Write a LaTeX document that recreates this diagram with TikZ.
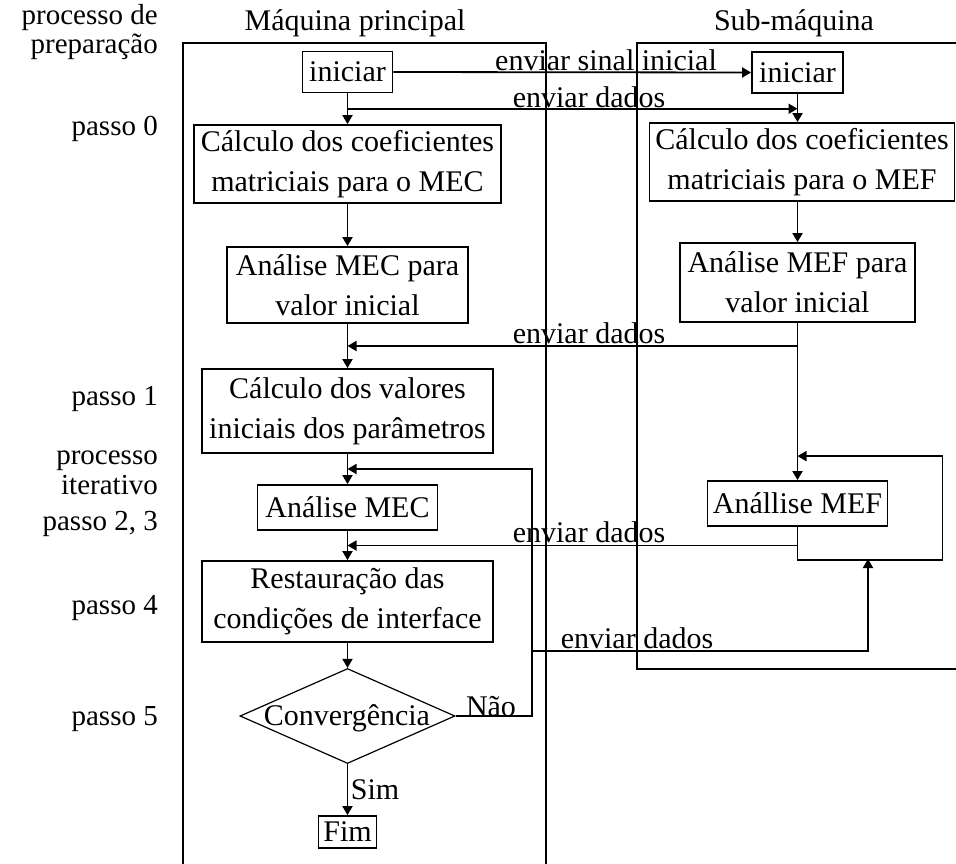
\documentclass[tikz,border=0pt]{standalone}
\usepackage{fontspec}
\setmainfont{Liberation Serif}
\usetikzlibrary{shapes.geometric,arrows.meta,calc}
\begin{document}
\begin{tikzpicture}[x=1pt,y=-1pt,
  every node/.style={font=\fontsize{30}{40}\selectfont},
  box/.style={draw, line width=1.8pt, inner sep=0pt, align=center},
  arr/.style={line width=1.8pt, -{Triangle[length=9pt,width=10pt]}},
  ln/.style={line width=1.8pt},
  lab/.style={inner sep=0pt},
  side/.style={anchor=base east, inner sep=0pt, font=\fontsize{29}{36}\selectfont},
  ttl/.style={anchor=base, inner sep=0pt}]
\useasboundingbox (0,0) rectangle (956,863);

% frames
\draw[ln] (183,880) -- (183,43) -- (546,43) -- (546,880);
\draw[ln] (970,43) -- (637,43) -- (637,669) -- (970,669);

% titles
\node[ttl] (tm) at (355,30) {Máquina principal};
\node[ttl] (ts) at (794,30) {Sub-máquina};

% side labels
\node[side] (s1) at (158,24) {processo de};
\node[side] (s2) at (158,53) {preparação};
\node[side] (s3) at (158,135) {passo 0};
\node[side] (s4) at (158,405) {passo 1};
\node[side] (s5) at (158,464) {processo};
\node[side] (s6) at (158,494) {iterativo};
\node[side] (s7) at (158,530) {passo 2, 3};
\node[side] (s8) at (158,614) {passo 4};
\node[side] (s9) at (158,725) {passo 5};

% main machine
\node[box, minimum width=307pt, minimum height=78pt] (mC) at (347.5,164) {Cálculo dos coeficientes\\matriciais para o MEC};
\node[box, minimum width=90pt, minimum height=41pt] (mI) at (347.5,72) {iniciar};
\node[box, minimum width=241pt, minimum height=76pt] (mA) at (347.5,285) {Análise MEC para\\valor inicial};
\node[box, minimum width=291pt, minimum height=84pt] (mV) at (347.5,411) {Cálculo dos valores\\iniciais dos parâmetros};
\node[box, minimum width=180pt, minimum height=45pt] (mE) at (347.5,507.5) {Análise MEC};
\node[box, minimum width=291pt, minimum height=81pt] (mR) at (347.5,601.5) {Restauração das\\condições de interface};
\node[draw, diamond, line width=1.2pt, minimum width=215pt, minimum height=95pt, inner sep=0pt] (conv) at (347.5,716) {};
\node[lab] (convt) at (347,718) {Convergência};
\node[box, minimum width=58pt, minimum height=32pt] (fim) at (347.5,832) {Fim};

% sub machine
\node[box, minimum width=91pt, minimum height=41pt] (sI) at (797.5,72.5) {iniciar};
\node[box, minimum width=305pt, minimum height=78pt] (sC) at (802,162) {Cálculo dos coeficientes\\matriciais para o MEF};
\node[box, minimum width=235pt, minimum height=79pt] (sA) at (797.5,282.5) {Análise MEF para\\valor inicial};
\node[box, minimum width=180pt, minimum height=45pt] (sE) at (797.5,503.5) {Anállise MEF};

% junction coordinates
\coordinate (j1) at ($(mI.south)!0.5!(mC.north)$);
\coordinate (j2) at (j1 -| sI.south);
\coordinate (j3) at ($(mA.south)!0.5!(mV.north)$);
\coordinate (j4) at ($(mV.south)!0.5!(mE.north)$);
\coordinate (j5) at ($(mE.south)!0.5!(mR.north)$);
\coordinate (k1) at ([yshift=24pt]sE.north);
\coordinate (k2) at ([yshift=-33pt]sE.south);
\coordinate (n1) at (532,716);
\coordinate (n2) at (532,651);
\coordinate (n3) at (868,559);

% main flow
\draw[arr] (mI.south) -- (mC.north);
\draw[arr] (mC.south) -- (mA.north);
\draw[arr] (mA.south) -- (mV.north);
\draw[arr] (mV.south) -- (mE.north);
\draw[arr] (mE.south) -- (mR.north);
\draw[arr] (mR.south) -- (conv.north);
\draw[arr] (conv.south) -- (fim.north);

% sub flow
\draw[arr] (sI.south) -- (sI.south |- sC.north);
\draw[arr] (sC.south -| sA.north) -- (sA.north);
\draw[arr] (sA.south) -- (sE.north);
\draw[arr] (sE.south) -- (k2) -- ++(145,0) |- (k1);

% exchanges
\draw[arr] (mI.east) -- (sI.west);
\draw[arr] (j1) -- (j2);
\draw[arr] (sA.south) |- (j3);
\draw[arr] (sE.south |- j5) -- (j5);
\draw[arr] (conv.east) -- (n1) |- (j4);
\draw[arr] (n2) -| (n3);

% labels
\node[lab] (t1) at (606,60) {enviar sinal inicial};
\node[lab] (t2) at (589,97) {enviar dados};
\node[lab] (t3) at (589,333) {enviar dados};
\node[lab] (t4) at (589,532) {enviar dados};
\node[lab] (t5) at (637,638) {enviar dados};
\node[lab] (t6) at (491,707) {Não};
\node[lab] (t7) at (375,790) {Sim};
\end{tikzpicture}
\end{document}
